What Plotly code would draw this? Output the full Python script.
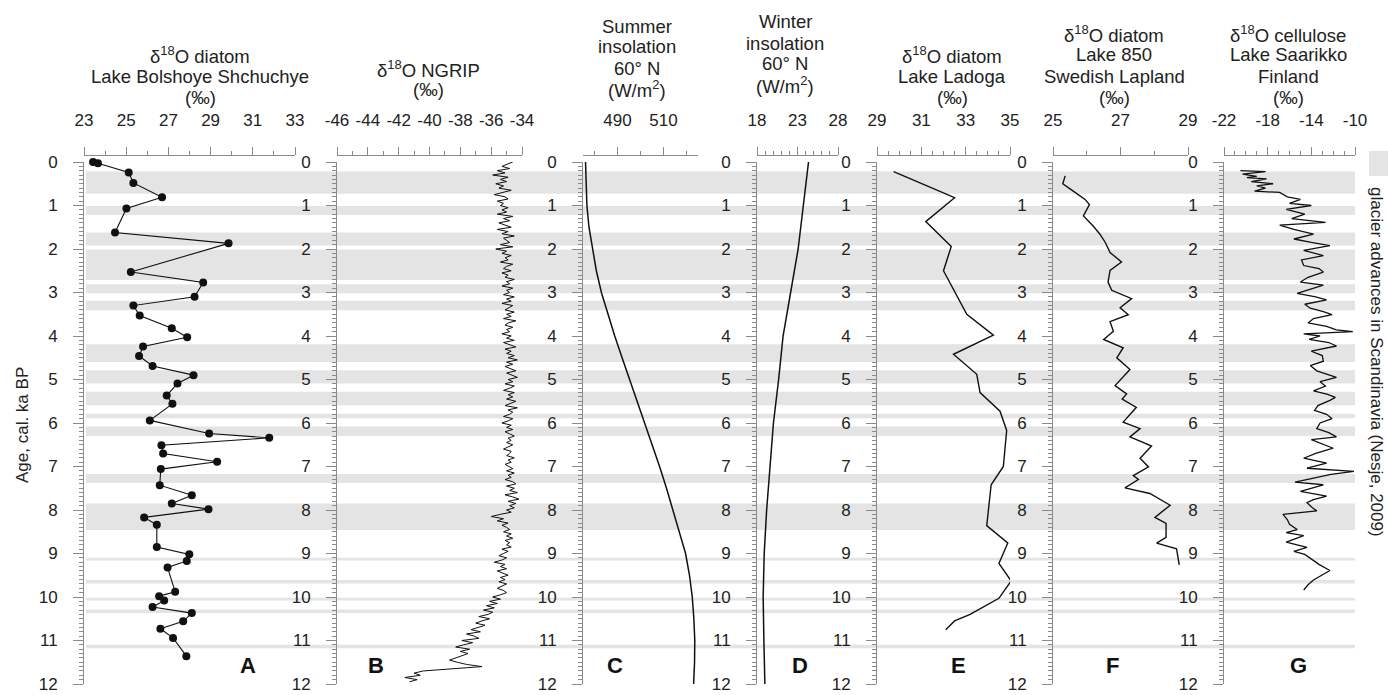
import plotly.graph_objects as go

# ---------------- DATA ----------------
# Glacier advances in Scandinavia (Nesje, 2009), ka BP (start, end)
band_start = [0.22, 1.01, 1.62, 2.01, 2.81, 3.19, 4.19, 4.79, 5.28, 5.79, 6.08, 7.17, 7.85, 9.10, 9.61, 10.02, 10.29, 11.10]
band_end   = [0.73, 1.22, 1.92, 2.71, 3.02, 3.41, 4.60, 5.09, 5.59, 5.89, 6.30, 7.38, 8.46, 9.16, 9.69, 10.08, 10.37, 11.18]

# A: d18O diatom, Lake Bolshoye Shchuchye
a_age = [0.00, 0.03, 0.24, 0.48, 0.81, 1.07, 1.62, 1.87, 2.53, 2.77, 3.10, 3.30, 3.53, 3.82, 4.03, 4.24, 4.46, 4.69, 4.90,
         5.09, 5.37, 5.56, 5.94, 6.24, 6.34, 6.51, 6.70, 6.89, 7.06, 7.43, 7.66, 7.85, 7.98, 8.17, 8.34, 8.85, 9.02,
         9.17, 9.32, 9.88, 9.98, 10.08, 10.23, 10.37, 10.56, 10.73, 10.94, 11.36]
a_val = [23.43, 23.66, 25.12, 25.34, 26.70, 25.01, 24.47, 29.85, 25.22, 28.65, 28.24, 25.34, 25.64, 27.16, 27.89, 25.80,
         25.61, 26.25, 28.19, 27.43, 26.92, 27.19, 26.12, 28.93, 31.78, 26.67, 26.75, 29.31, 26.64, 26.59, 28.11, 27.16,
         28.90, 25.85, 26.45, 26.45, 27.99, 27.87, 26.96, 27.32, 26.56, 26.80, 26.25, 28.11, 27.70, 26.62, 27.22, 27.85]

# B: d18O NGRIP, one row per ka, 0.05 ka steps
ngrip_rows = [
    [-34.6, -35.0, -35.3, -34.8, -35.6, -35.1, -35.9, -34.9, -35.4, -35.0, -35.7, -35.2, -35.5, -34.7, -35.3, -35.8, -35.1, -34.9, -35.6, -35.2],
    [-35.4, -34.9, -35.3, -35.0, -35.6, -34.6, -35.2, -34.8, -35.5, -35.1, -34.7, -35.6, -34.9, -35.3, -34.5, -35.2, -35.0, -34.8, -35.4, -34.6],
    [-35.7, -35.0, -35.3, -34.7, -35.1, -34.9, -35.4, -34.6, -35.0, -35.2, -34.7, -35.3, -34.9, -35.1, -34.5, -35.0, -34.8, -35.3, -34.6, -35.0],
    [-34.8, -35.2, -34.5, -35.0, -34.7, -35.3, -34.6, -34.9, -35.1, -34.5, -35.0, -34.7, -35.2, -34.4, -34.9, -35.1, -34.6, -35.0, -34.8, -35.3],
    [-34.7, -35.0, -34.5, -35.2, -34.8, -34.4, -35.1, -34.7, -35.0, -34.5, -34.9, -34.3, -35.0, -34.6, -35.1, -34.8, -34.4, -35.0, -34.7, -34.3],
    [-34.9, -34.6, -35.1, -34.5, -34.8, -35.2, -34.5, -34.9, -34.6, -35.0, -34.4, -34.8, -35.1, -34.3, -34.9, -34.6, -34.8, -35.2, -34.6, -34.9],
    [-35.3, -34.7, -35.0, -34.6, -35.1, -34.8, -34.5, -34.9, -34.7, -35.0, -34.6, -34.9, -35.2, -34.7, -34.8, -35.0, -34.5, -34.9, -34.7, -35.1],
    [-34.8, -34.6, -35.0, -34.5, -34.9, -34.7, -35.1, -34.6, -34.4, -35.0, -34.5, -34.8, -34.3, -35.1, -34.6, -34.2, -34.9, -34.4, -34.8, -34.5],
    [-35.0, -34.7, -35.4, -36.0, -35.2, -35.6, -34.9, -35.3, -35.0, -34.8, -35.2, -34.7, -35.0, -34.6, -35.1, -34.8, -35.0, -34.7, -35.3, -34.9],
    [-35.2, -35.5, -35.0, -35.3, -35.8, -35.1, -35.4, -35.0, -35.6, -35.2, -34.9, -35.4, -35.1, -35.5, -35.0, -35.3, -35.6, -35.2, -35.0, -35.4],
    [-35.9, -35.4, -36.1, -35.6, -36.3, -35.8, -36.5, -35.9, -36.2, -36.8, -36.1, -36.6, -37.0, -36.4, -36.9, -37.3, -36.7, -37.6, -37.1, -36.8],
    [-37.9, -37.2, -37.8, -38.3, -37.4, -38.0, -37.5, -37.9, -38.4, -38.7, -38.2, -37.6, -36.6, -38.8, -40.4, -41.0, -40.6, -41.6, -40.8, -41.3],
]
ngrip_step = 0.05

# C: summer insolation 60N (W/m2)
c_age = [0.0, 0.5, 1.0, 1.5, 2.0, 2.5, 3.0, 3.5, 4.0, 4.5, 5.0, 5.5, 6.0, 6.5, 7.0, 7.5, 8.0, 8.5, 9.0, 9.5, 10.0, 10.5, 11.0, 11.5, 12.0]
c_val = [476.1, 476.3, 476.7, 477.6, 479.1, 480.8, 483.0, 485.8, 488.8, 492.0, 495.3, 498.5, 501.8, 505.0, 508.3, 511.3,
         514.1, 517.0, 519.6, 521.3, 522.5, 523.2, 523.6, 523.5, 523.1]

# D: winter insolation 60N (W/m2)
d_age = [0, 1, 2, 3, 4, 5, 6, 7, 8, 9, 10, 11, 12]
d_val = [24.36, 23.76, 23.08, 22.15, 21.22, 20.67, 20.03, 19.61, 19.19, 18.89, 18.76, 18.85, 18.97]

# E: d18O diatom, Lake Ladoga
e_age = [0.22, 0.82, 1.37, 1.94, 2.50, 3.50, 3.98, 4.42, 4.88, 5.30, 5.73, 6.17, 7.00, 7.42, 8.36, 8.76, 9.23, 9.63,
         10.03, 10.40, 10.55, 10.75]
e_val = [29.75, 32.50, 31.20, 32.35, 32.00, 33.05, 34.25, 32.45, 33.50, 33.65, 34.55, 34.85, 34.70, 34.15, 33.95, 34.90,
         34.50, 35.05, 34.50, 33.20, 32.50, 32.10]

# F: d18O diatom, Lake 850
f_age = [0.32, 0.50, 0.67, 0.86, 0.98, 1.24, 1.47, 1.66, 1.85, 2.08, 2.30, 2.49, 2.76, 2.95, 3.14, 3.35, 3.51, 3.67, 3.89,
         4.08, 4.27, 4.50, 4.77, 5.14, 5.33, 5.45, 5.64, 5.98, 6.13, 6.32, 6.53, 6.81, 7.01, 7.21, 7.30, 7.49, 7.62, 7.89,
         8.17, 8.31, 8.63, 8.76, 8.89, 9.26]
f_val = [25.36, 25.29, 25.60, 25.95, 26.08, 25.90, 26.19, 26.39, 26.55, 26.69, 27.03, 26.69, 26.63, 26.74, 27.33, 26.99,
         27.23, 26.69, 26.79, 26.50, 27.08, 26.89, 27.28, 26.84, 27.18, 27.05, 27.47, 27.08, 27.58, 27.28, 27.92, 27.58,
         27.83, 27.38, 27.53, 27.13, 27.87, 28.47, 28.02, 28.35, 28.35, 28.07, 28.66, 28.74]

# G: d18O cellulose, Lake Saarikko
g_age = [0.20, 0.22, 0.28, 0.33, 0.36, 0.39, 0.45, 0.50, 0.55, 0.60, 0.67, 0.70, 0.80, 0.86, 0.95, 1.00, 1.09, 1.20,
         1.30, 1.39, 1.45, 1.55, 1.66, 1.77, 1.85, 1.92, 2.03, 2.10, 2.15, 2.25, 2.38, 2.45, 2.53, 2.65, 2.76, 2.83,
         2.92, 3.02, 3.10, 3.17, 3.27, 3.36, 3.44, 3.51, 3.60, 3.70, 3.78, 3.86, 3.90, 3.95, 4.00, 4.08, 4.15, 4.23,
         4.35, 4.45, 4.58, 4.68, 4.80, 4.88, 4.95, 5.05, 5.15, 5.26, 5.34, 5.41, 5.48, 5.60, 5.71, 5.80, 5.90, 6.00,
         6.13, 6.22, 6.32, 6.38, 6.48, 6.58, 6.70, 6.81, 6.92, 7.04, 7.11, 7.18, 7.28, 7.36, 7.42, 7.50, 7.57, 7.68,
         7.76, 7.83, 7.95, 8.02, 8.10, 8.22, 8.33, 8.45, 8.52, 8.59, 8.68, 8.74, 8.86, 8.95, 9.02, 9.12, 9.25, 9.39,
         9.50, 9.61, 9.72, 9.84]
g_val = [-20.5, -18.2, -20.3, -19.0, -19.9, -18.1, -19.5, -17.5, -19.0, -18.2, -19.2, -16.9, -16.2, -15.0, -16.0, -14.0,
         -16.3, -14.6, -15.8, -12.7, -16.9, -15.6, -13.8, -15.6, -14.0, -12.3, -14.7, -13.6, -12.9, -14.9, -14.7, -13.3,
         -12.9, -14.3, -15.0, -12.9, -14.1, -15.3, -13.6, -12.6, -14.6, -14.1, -12.9, -12.1, -13.8, -14.3, -12.6, -11.7,
         -10.2, -14.7, -13.2, -14.2, -12.4, -11.7, -14.0, -13.0, -12.9, -14.1, -13.5, -12.6, -11.7, -13.2, -12.7, -13.8,
         -12.5, -11.8, -12.3, -13.4, -13.7, -12.6, -12.1, -13.2, -13.5, -12.4, -11.7, -14.0, -12.9, -12.0, -13.6, -14.7,
         -12.6, -14.4, -10.1, -12.2, -14.0, -15.5, -12.9, -14.1, -15.0, -12.6, -13.8, -14.4, -13.9, -13.5, -16.6, -16.2,
         -16.0, -15.3, -16.3, -14.7, -15.7, -16.3, -14.4, -15.6, -14.6, -14.0, -13.3, -12.3, -13.0, -13.8, -14.3, -14.7]

# axis ticks per panel
a_ticks = [23, 25, 27, 29, 31, 33]
b_ticks = [-46, -44, -42, -40, -38, -36, -34]
c_ticks = [490, 510]
d_ticks = [18, 23, 28]
e_ticks = [29, 31, 33, 35]
f_ticks = [25, 27, 29]
g_ticks = [-22, -18, -14, -10]
age_ticks = list(range(0, 13))

# ---------------- LAYOUT HELPERS ----------------
W, H = 1388, 695
FONT = "Arial, Liberation Sans, Helvetica, sans-serif"
TXT = "#222222"
AXC = "#8a8a8a"
Y_TOP, Y_BOT = 162, 684      # pixel rows of age 0 and 12
XAX_Y = 155                  # pixel row of top value axes


def fx(p):
    return p / W


def fy(p):
    return 1 - p / H


def lab(v):
    # plain hyphen for negatives, as in the original figure
    return ("-%g" % abs(v)) if v < 0 else "%g" % v


ngrip_age = []
ngrip_val = []
for r, row in enumerate(ngrip_rows):
    for k, v in enumerate(row):
        ngrip_age.append(round(r + k * ngrip_step, 3))
        ngrip_val.append(v)

panels = [
    dict(px=(84, 295), rng=[23, 33], tv=a_ticks, minor=dict(dtick=1, tick0=23),
         x=a_val, y=a_age, mode="lines+markers", lw=1.1),
    dict(px=(337, 522), rng=[-46, -34], tv=b_ticks, minor=dict(dtick=1, tick0=-46),
         x=ngrip_val, y=ngrip_age, mode="lines", lw=1.0),
    dict(px=(583, 698), rng=[475, 525], tv=c_ticks, minor=dict(tickmode="array", tickvals=[480, 500, 520]),
         x=c_val, y=c_age, mode="lines", lw=1.5),
    dict(px=(757, 838), rng=[18, 28], tv=d_ticks, minor=dict(dtick=1, tick0=18),
         x=d_val, y=d_age, mode="lines", lw=1.5),
    dict(px=(877, 1010), rng=[29, 35], tv=e_ticks, minor=dict(dtick=0.5, tick0=29),
         x=e_val, y=e_age, mode="lines", lw=1.4),
    dict(px=(1053, 1188), rng=[25, 29], tv=f_ticks, minor=dict(tickmode="array", tickvals=[26, 28]),
         x=f_val, y=f_age, mode="lines", lw=1.4),
    dict(px=(1224, 1355), rng=[-22, -10], tv=g_ticks, minor=dict(dtick=1, tick0=-22),
         x=g_val, y=g_age, mode="lines", lw=1.3),
]

fig = go.Figure()
layout = dict(
    width=W, height=H,
    margin=dict(l=0, r=0, t=0, b=0, autoexpand=False),
    paper_bgcolor="white", plot_bgcolor="rgba(0,0,0,0)",
    showlegend=False,
    font=dict(family=FONT, color=TXT, size=17),
)

for i, p in enumerate(panels, start=1):
    sfx = "" if i == 1 else str(i)
    fig.add_trace(go.Scatter(
        x=p["x"], y=p["y"], mode=p["mode"], xaxis="x" + sfx, yaxis="y" + sfx,
        line=dict(color="#111111", width=p["lw"]),
        marker=dict(size=8, color="#111111"), cliponaxis=False, hoverinfo="skip"))
    minor = dict(ticks="outside", ticklen=4, tickcolor=AXC, tickwidth=1)
    minor.update(p["minor"])
    layout["xaxis" + sfx] = dict(
        domain=[fx(p["px"][0]), fx(p["px"][1])], range=p["rng"], side="top",
        anchor="free", position=fy(XAX_Y),
        showline=True, linecolor=AXC, linewidth=1,
        tickmode="array", tickvals=p["tv"], ticktext=[lab(v) for v in p["tv"]], tickangle=0,
        ticks="outside", ticklen=8, tickcolor=AXC, ticklabeloverflow="allow",
        minor=minor, showgrid=False, zeroline=False,
        tickfont=dict(size=17, color=TXT, family=FONT), ticklabelstandoff=14,
    )
    layout["yaxis" + sfx] = dict(
        domain=[fy(Y_BOT), fy(Y_TOP)], range=[12, 0], anchor="x" + sfx, side="left",
        showline=True, linecolor=AXC, linewidth=1,
        tickmode="array", tickvals=age_ticks, ticks="outside", ticklen=10, tickcolor=AXC, tickangle=0,
        ticklabeloverflow="allow",
        minor=dict(ticks="outside", dtick=0.1, tick0=0, ticklen=4, tickcolor=AXC),
        showgrid=False, zeroline=False,
        tickfont=dict(size=17, color=TXT, family=FONT), ticklabelstandoff=12,
    )

# glacier advance bands
shapes = []
for s, e in zip(band_start, band_end):
    shapes.append(dict(type="rect", xref="paper", yref="y", x0=fx(86), x1=fx(1355), y0=s, y1=e,
                       fillcolor="#e4e4e4", line=dict(width=0), layer="below"))
# legend swatch
shapes.append(dict(type="rect", xref="paper", yref="paper", x0=fx(1369), x1=fx(1392), y0=fy(176), y1=fy(151),
                   fillcolor="#e4e4e4", line=dict(width=0), layer="below"))
layout["shapes"] = shapes

ann = []
titles = [
    (200, [(55, "δ<sup>18</sup>O diatom"), (76, "Lake Bolshoye Shchuchye"), (97, "(‰)")]),
    (428, [(69, "δ<sup>18</sup>O NGRIP"), (90, "(‰)")]),
    (637, [(26, "Summer"), (47, "insolation"), (68, "60° N"), (89, "(W/m<sup>2</sup>)")]),
    (785, [(22, "Winter"), (43, "insolation"), (64, "60° N"), (85, "(W/m<sup>2</sup>)")]),
    (952, [(55, "δ<sup>18</sup>O diatom"), (76, "Lake Ladoga"), (97, "(‰)")]),
    (1114, [(34, "δ<sup>18</sup>O diatom"), (55, "Lake 850"), (76, "Swedish Lapland"), (97, "(‰)")]),
    (1288, [(34, "δ<sup>18</sup>O cellulose"), (55, "Lake Saarikko"), (76, "Finland"), (97, "(‰)")]),
]
for cx, lines in titles:
    for cy, t in lines:
        ann.append(dict(x=fx(cx), y=fy(cy), xref="paper", yref="paper", text=t, showarrow=False,
                        xanchor="center", yanchor="middle", font=dict(size=18.5, color=TXT, family=FONT)))

letters = [("A", 248), ("B", 376), ("C", 615), ("D", 800), ("E", 958), ("F", 1112), ("G", 1298)]
for t, cx in letters:
    ann.append(dict(x=fx(cx), y=fy(665), xref="paper", yref="paper", text="<b>%s</b>" % t, showarrow=False,
                    xanchor="center", yanchor="middle", font=dict(size=22, color="#111111", family=FONT)))

ann.append(dict(x=fx(22), y=fy(425), xref="paper", yref="paper", text="Age, cal. ka BP", showarrow=False,
                textangle=-90, xanchor="center", yanchor="middle", font=dict(size=17, color=TXT, family=FONT)))
ann.append(dict(x=fx(1377), y=fy(362), xref="paper", yref="paper",
                text="glacier advances in Scandinavia (Nesje, 2009)", showarrow=False,
                textangle=90, xanchor="center", yanchor="middle", font=dict(size=17, color=TXT, family=FONT)))
layout["annotations"] = ann

fig.update_layout(**layout)
fig.write_html("out.html", config={"displayModeBar": False},
               post_script="document.body.style.margin='0px';")
